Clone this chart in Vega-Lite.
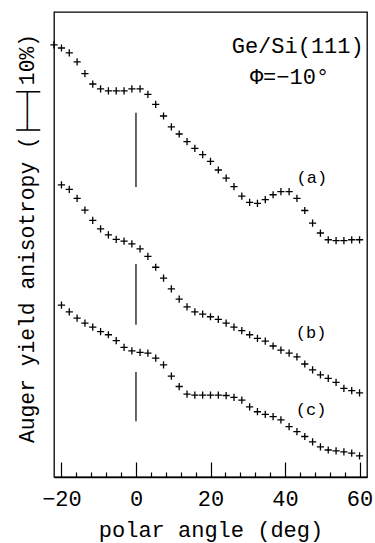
{
  "$schema": "https://vega.github.io/schema/vega-lite/v6.json",
  "width": 313,
  "height": 465,
  "autosize": {"type": "none"},
  "padding": {"left": 54, "top": 12, "right": 8, "bottom": 66},
  "background": "white",
  "config": {
    "view": {"stroke": "black", "strokeWidth": 1.3},
    "font": "Liberation Mono"
  },
  "datasets": {
    "curves": [
      {"curve":"a","angle":-22,"anisotropy":96.0},{"curve":"a","angle":-20,"anisotropy":95.3},{"curve":"a","angle":-17.9,"anisotropy":94.2},{"curve":"a","angle":-15.8,"anisotropy":92.2},{"curve":"a","angle":-13.7,"anisotropy":89.6},{"curve":"a","angle":-11.6,"anisotropy":87.3},{"curve":"a","angle":-9.5,"anisotropy":86.2},{"curve":"a","angle":-7.4,"anisotropy":85.8},{"curve":"a","angle":-5.3,"anisotropy":85.8},{"curve":"a","angle":-3.2,"anisotropy":85.8},
      {"curve":"a","angle":-1.1,"anisotropy":86.2},{"curve":"a","angle":1.1,"anisotropy":86.2},{"curve":"a","angle":3.2,"anisotropy":85.0},{"curve":"a","angle":5.3,"anisotropy":82.8},{"curve":"a","angle":7.4,"anisotropy":80.2},{"curve":"a","angle":9.5,"anisotropy":77.8},{"curve":"a","angle":11.6,"anisotropy":76.2},{"curve":"a","angle":13.7,"anisotropy":74.5},{"curve":"a","angle":15.8,"anisotropy":73.0},{"curve":"a","angle":17.9,"anisotropy":71.6},
      {"curve":"a","angle":20,"anisotropy":70.1},{"curve":"a","angle":22.1,"anisotropy":68.2},{"curve":"a","angle":24.2,"anisotropy":66.4},{"curve":"a","angle":26.3,"anisotropy":64.5},{"curve":"a","angle":28.4,"anisotropy":62.4},{"curve":"a","angle":30.5,"anisotropy":61.0},{"curve":"a","angle":32.6,"anisotropy":60.8},{"curve":"a","angle":34.7,"anisotropy":61.6},{"curve":"a","angle":36.8,"anisotropy":62.7},{"curve":"a","angle":38.9,"anisotropy":63.4},
      {"curve":"a","angle":41.1,"anisotropy":63.4},{"curve":"a","angle":43.2,"anisotropy":61.9},{"curve":"a","angle":45.3,"anisotropy":59.2},{"curve":"a","angle":47.4,"anisotropy":56.4},{"curve":"a","angle":49.5,"anisotropy":54.2},{"curve":"a","angle":51.6,"anisotropy":52.7},{"curve":"a","angle":53.7,"anisotropy":52.5},{"curve":"a","angle":55.8,"anisotropy":52.5},{"curve":"a","angle":57.9,"anisotropy":52.7},{"curve":"a","angle":60,"anisotropy":52.7},

      {"curve":"b","angle":-20,"anisotropy":64.9},{"curve":"b","angle":-17.9,"anisotropy":63.9},{"curve":"b","angle":-15.8,"anisotropy":61.9},{"curve":"b","angle":-13.7,"anisotropy":59.3},{"curve":"b","angle":-11.6,"anisotropy":57.0},{"curve":"b","angle":-9.5,"anisotropy":55.1},{"curve":"b","angle":-7.4,"anisotropy":53.8},{"curve":"b","angle":-5.3,"anisotropy":52.8},{"curve":"b","angle":-3.2,"anisotropy":52.4},{"curve":"b","angle":-1.1,"anisotropy":51.8},
      {"curve":"b","angle":1.1,"anisotropy":50.7},{"curve":"b","angle":3.2,"anisotropy":49.0},{"curve":"b","angle":5.3,"anisotropy":46.6},{"curve":"b","angle":7.4,"anisotropy":44.2},{"curve":"b","angle":9.5,"anisotropy":41.8},{"curve":"b","angle":11.6,"anisotropy":39.5},{"curve":"b","angle":13.7,"anisotropy":37.8},{"curve":"b","angle":15.8,"anisotropy":36.7},{"curve":"b","angle":17.9,"anisotropy":36.2},{"curve":"b","angle":20,"anisotropy":35.6},
      {"curve":"b","angle":22.1,"anisotropy":35.0},{"curve":"b","angle":24.2,"anisotropy":34.2},{"curve":"b","angle":26.3,"anisotropy":33.3},{"curve":"b","angle":28.4,"anisotropy":32.5},{"curve":"b","angle":30.5,"anisotropy":31.6},{"curve":"b","angle":32.6,"anisotropy":30.8},{"curve":"b","angle":34.7,"anisotropy":30.2},{"curve":"b","angle":36.8,"anisotropy":29.1},{"curve":"b","angle":38.9,"anisotropy":28.2},{"curve":"b","angle":41.1,"anisotropy":27.5},
      {"curve":"b","angle":43.2,"anisotropy":26.7},{"curve":"b","angle":45.3,"anisotropy":25.1},{"curve":"b","angle":47.4,"anisotropy":23.8},{"curve":"b","angle":49.5,"anisotropy":22.7},{"curve":"b","angle":51.6,"anisotropy":21.9},{"curve":"b","angle":53.7,"anisotropy":21.0},{"curve":"b","angle":55.8,"anisotropy":19.7},{"curve":"b","angle":57.9,"anisotropy":19.2},{"curve":"b","angle":60,"anisotropy":18.7},

      {"curve":"c","angle":-20,"anisotropy":38.2},{"curve":"c","angle":-17.9,"anisotropy":36.7},{"curve":"c","angle":-15.8,"anisotropy":35.3},{"curve":"c","angle":-13.7,"anisotropy":34.2},{"curve":"c","angle":-11.6,"anisotropy":33.3},{"curve":"c","angle":-9.5,"anisotropy":32.3},{"curve":"c","angle":-7.4,"anisotropy":31.6},{"curve":"c","angle":-5.3,"anisotropy":30.3},{"curve":"c","angle":-3.2,"anisotropy":28.8},{"curve":"c","angle":-1.1,"anisotropy":28.0},
      {"curve":"c","angle":1.1,"anisotropy":27.7},{"curve":"c","angle":3.2,"anisotropy":27.5},{"curve":"c","angle":5.3,"anisotropy":26.4},{"curve":"c","angle":7.4,"anisotropy":24.9},{"curve":"c","angle":9.5,"anisotropy":22.4},{"curve":"c","angle":11.6,"anisotropy":20.1},{"curve":"c","angle":13.7,"anisotropy":18.4},{"curve":"c","angle":15.8,"anisotropy":18.2},{"curve":"c","angle":17.9,"anisotropy":18.2},{"curve":"c","angle":20,"anisotropy":18.2},
      {"curve":"c","angle":22.1,"anisotropy":18.2},{"curve":"c","angle":24.2,"anisotropy":18.1},{"curve":"c","angle":26.3,"anisotropy":17.7},{"curve":"c","angle":28.4,"anisotropy":17.1},{"curve":"c","angle":30.5,"anisotropy":15.6},{"curve":"c","angle":32.6,"anisotropy":14.5},{"curve":"c","angle":34.7,"anisotropy":13.9},{"curve":"c","angle":36.8,"anisotropy":13.4},{"curve":"c","angle":38.9,"anisotropy":12.7},{"curve":"c","angle":41.1,"anisotropy":11.2},
      {"curve":"c","angle":43.2,"anisotropy":10.1},{"curve":"c","angle":45.3,"anisotropy":9.0},{"curve":"c","angle":47.4,"anisotropy":7.8},{"curve":"c","angle":49.5,"anisotropy":6.7},{"curve":"c","angle":51.6,"anisotropy":6.0},{"curve":"c","angle":53.7,"anisotropy":5.8},{"curve":"c","angle":55.8,"anisotropy":5.6},{"curve":"c","angle":57.9,"anisotropy":5.3},{"curve":"c","angle":60,"anisotropy":4.7}
    ],
    "markers": [
      {"curve":"a","angle":0,"top":80.9,"bottom":64.4},
      {"curve":"b","angle":0,"top":47.3,"bottom":33.8},
      {"curve":"c","angle":0,"top":23.3,"bottom":12.4}
    ],
    "labels": [
      {"curve":"a","angle":47.2,"anisotropy":65.4,"text":"(a)"},
      {"curve":"b","angle":47.0,"anisotropy":30.8,"text":"(b)"},
      {"curve":"c","angle":47.0,"anisotropy":13.8,"text":"(c)"}
    ],
    "header": [
      {"angle":43.4,"anisotropy":94.2,"text":"Ge/Si(111)"},
      {"angle":41.2,"anisotropy":87.4,"text":"Φ=−10°"}
    ]
  },
  "layer": [
    {
      "data": {"name": "curves"},
      "mark": {"type": "point", "shape": "M-1,0H1M0,-1V1", "filled": false, "stroke": "black", "strokeWidth": 1.3, "size": 52, "opacity": 1},
      "encoding": {
        "x": {
          "field": "angle", "type": "quantitative",
          "scale": {"domain": [-22, 62], "nice": false, "zero": false},
          "axis": {
            "title": "polar angle (deg)",
            "values": [-20,-16,-12,-8,-4,0,4,8,12,16,20,24,28,32,36,40,44,48,52,56,60],
            "tickCount": 100,
            "labelExpr": "datum.value % 20 === 0 ? datum.label : ''",
            "tickSize": {"condition": {"test": "datum.value % 20 === 0", "value": -15}, "value": -5},
            "tickColor": "black", "tickWidth": 1.2,
            "domainColor": "black", "domainWidth": 1.3,
            "grid": false,
            "labelFont": "Liberation Mono", "labelFontSize": 22, "labelColor": "black",
            "labelPadding": 26,
            "titleFont": "Liberation Mono", "titleFontSize": 22, "titleFontWeight": "normal", "titleColor": "black",
            "titlePadding": 0,
            "labelFlush": false, "labelOverlap": false
          }
        },
        "y": {
          "field": "anisotropy", "type": "quantitative",
          "scale": {"domain": [0, 103.3], "nice": false, "zero": false},
          "axis": {
            "title": "Auger yield anisotropy (├──┤10%)",
            "labels": false, "ticks": false, "domain": false, "grid": false,
            "titleFont": "Liberation Mono", "titleFontSize": 21.3, "titleFontWeight": "normal", "titleColor": "black",
            "titlePadding": 17,
            "titleY": 226
          }
        },
        "detail": {"field": "curve"}
      }
    },
    {
      "data": {"name": "markers"},
      "mark": {"type": "rule", "color": "black", "strokeWidth": 1.2},
      "encoding": {
        "x": {"field": "angle", "type": "quantitative"},
        "y": {"field": "top", "type": "quantitative"},
        "y2": {"field": "bottom"}
      }
    },
    {
      "data": {"name": "labels"},
      "mark": {"type": "text", "font": "Liberation Mono", "fontSize": 17, "color": "black", "align": "center", "baseline": "alphabetic"},
      "encoding": {
        "x": {"field": "angle", "type": "quantitative"},
        "y": {"field": "anisotropy", "type": "quantitative"},
        "text": {"field": "text"}
      }
    },
    {
      "data": {"name": "header"},
      "mark": {"type": "text", "font": "Liberation Mono", "fontSize": 22, "color": "black", "align": "center", "baseline": "alphabetic"},
      "encoding": {
        "x": {"field": "angle", "type": "quantitative"},
        "y": {"field": "anisotropy", "type": "quantitative"},
        "text": {"field": "text"}
      }
    }
  ]
}
